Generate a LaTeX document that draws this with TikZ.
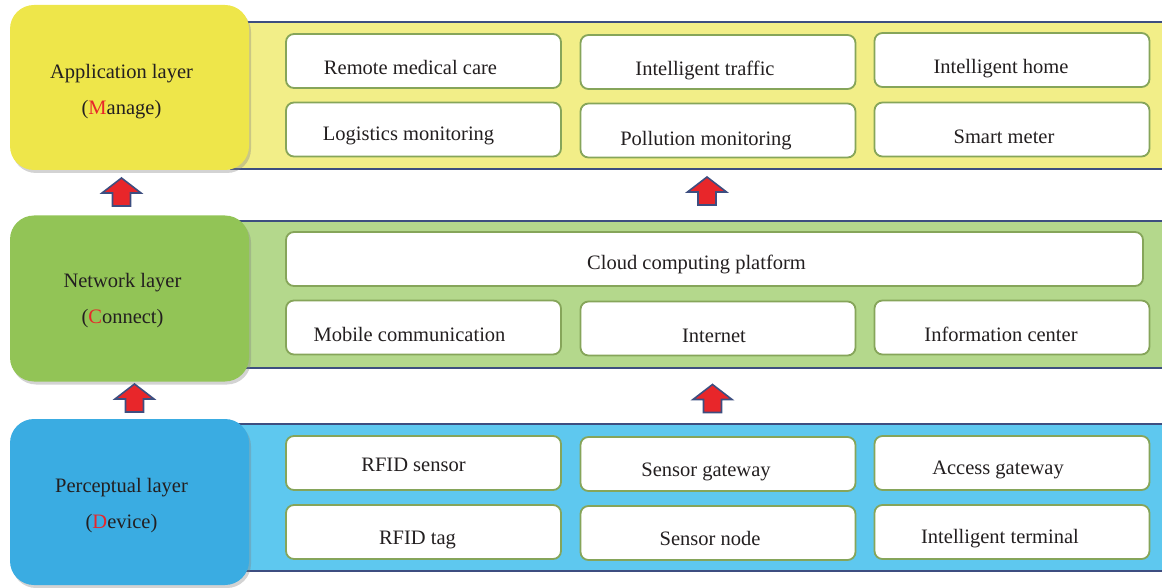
\documentclass[tikz,border=0pt]{standalone}
\usepackage{fontspec}
\setmainfont{Liberation Serif}
\usetikzlibrary{shadows}
\definecolor{navy}{HTML}{3D4E80}
\definecolor{arrred}{HTML}{E8262A}
\definecolor{yelbox}{HTML}{EEE64A}
\definecolor{yelstrip}{HTML}{F2EE88}
\definecolor{grnbox}{HTML}{92C456}
\definecolor{grnstrip}{HTML}{B4D88C}
\definecolor{blubox}{HTML}{3AACE2}
\definecolor{blustrip}{HTML}{5EC8EF}
\definecolor{itemedge}{HTML}{86A55A}
\definecolor{txt}{HTML}{231F20}
\definecolor{hl}{HTML}{E8262A}
\tikzset{
  layerbox/.style={rounded corners=24pt, minimum width=239pt, inner sep=0pt,
    drop shadow={opacity=0.35, shadow xshift=2pt, shadow yshift=-3pt}},
  layertext/.style={align=center, text=txt, inner sep=0pt, yshift=-2pt,
    font=\fontsize{20.5}{36}\selectfont},
  item/.style={draw=itemedge, line width=1.8pt, fill=white, rounded corners=8pt,
    minimum width=275pt, minimum height=54pt, inner sep=0pt},
  itemtext/.style={text=txt, inner sep=0pt, text height=14pt, text depth=4.5pt,
    yshift=-3pt, font=\fontsize{20.5}{24}\selectfont},
  arrowstyle/.style={fill=arrred, draw=navy, line width=1.6pt, line join=miter},
  stripline/.style={navy, line width=2.6pt}
}
\newcommand{\uparr}[3]{%
  \coordinate (#1) at (#2,#3);
  \draw[arrowstyle] ([shift={(0,-14)}]#1) -- ++(19.5,15) -- ++(-10.5,0) -- ++(0,13)
    -- ++(-18,0) -- ++(0,-13) -- ++(-10.5,0) -- cycle;}
\begin{document}
\begin{tikzpicture}[x=1pt,y=-1pt]
\useasboundingbox (0,0) rectangle (1162,588);
% strips
\fill[yelstrip] (230,22) rectangle (1162,169);
\draw[stripline] (230,22) -- (1162,22);
\draw[stripline] (230,169) -- (1162,169);
\fill[grnstrip] (230,221) rectangle (1162,368);
\draw[stripline] (230,221) -- (1162,221);
\draw[stripline] (230,368) -- (1162,368);
\fill[blustrip] (230,424) rectangle (1162,571);
\draw[stripline] (230,424) -- (1162,424);
\draw[stripline] (230,571) -- (1162,571);
% layer boxes
\node[layerbox, fill=yelbox, minimum height=165pt] (app) at (129.5,87.5) {};
\node[layertext] (appt) at ([shift={(-8,2)}]app.center)
  {Application layer\\(\textcolor{hl}{M}anage)};
\node[layerbox, fill=grnbox, minimum height=166pt] (net) at (129.5,298.5) {};
\node[layertext] (nett) at ([shift={(-7,0)}]net.center)
  {Network layer\\(\textcolor{hl}{C}onnect)};
\node[layerbox, fill=blubox, minimum height=166pt] (per) at (129.5,502) {};
\node[layertext] (pert) at ([shift={(-8,2)}]per.center)
  {Perceptual layer\\(\textcolor{hl}{D}evice)};
% application items
\node[item] (a1) at (423.5,61) {};
\node[itemtext] (a1t) at ([shift={(-13,6)}]a1.center) {Remote medical care};
\node[item] (a2) at (718,62) {};
\node[itemtext] (a2t) at ([shift={(-13,6)}]a2.center) {Intelligent traffic};
\node[item] (a3) at (1012,60) {};
\node[itemtext] (a3t) at ([shift={(-11,6)}]a3.center) {Intelligent home};
\node[item] (a4) at (423.5,129.5) {};
\node[itemtext] (a4t) at ([shift={(-15,3)}]a4.center) {Logistics monitoring};
\node[item] (a5) at (718,130.5) {};
\node[itemtext] (a5t) at ([shift={(-12,7)}]a5.center) {Pollution monitoring};
\node[item] (a6) at (1012,129.5) {};
\node[itemtext] (a6t) at ([shift={(-8,6)}]a6.center) {Smart meter};
% network items
\node[item, minimum width=857pt] (n0) at (714.5,259) {};
\node[itemtext] (n0t) at ([shift={(-18,3)}]n0.center) {Cloud computing platform};
\node[item] (n1) at (423.5,327.5) {};
\node[itemtext] (n1t) at ([shift={(-14,6)}]n1.center) {Mobile communication};
\node[item] (n2) at (718,328.5) {};
\node[itemtext] (n2t) at ([shift={(-4,6)}]n2.center) {Internet};
\node[item] (n3) at (1012,327.5) {};
\node[itemtext] (n3t) at ([shift={(-11,6)}]n3.center) {Information center};
% perceptual items
\node[item] (p1) at (423.5,463) {};
\node[itemtext] (p1t) at ([shift={(-10,1)}]p1.center) {RFID sensor};
\node[item] (p2) at (718,464) {};
\node[itemtext] (p2t) at ([shift={(-12,5)}]p2.center) {Sensor gateway};
\node[item] (p3) at (1012,463) {};
\node[itemtext] (p3t) at ([shift={(-14,4)}]p3.center) {Access gateway};
\node[item] (p4) at (423.5,532) {};
\node[itemtext] (p4t) at ([shift={(-6,5)}]p4.center) {RFID tag};
\node[item] (p5) at (718,533) {};
\node[itemtext] (p5t) at ([shift={(-8,5)}]p5.center) {Sensor node};
\node[item] (p6) at (1012,532) {};
\node[itemtext] (p6t) at ([shift={(-12,4)}]p6.center) {Intelligent terminal};
% arrows
\uparr{u1}{121.5}{192}
\uparr{u2}{707}{191}
\uparr{u3}{134.5}{398}
\uparr{u4}{712.5}{398.5}
\end{tikzpicture}
\end{document}
